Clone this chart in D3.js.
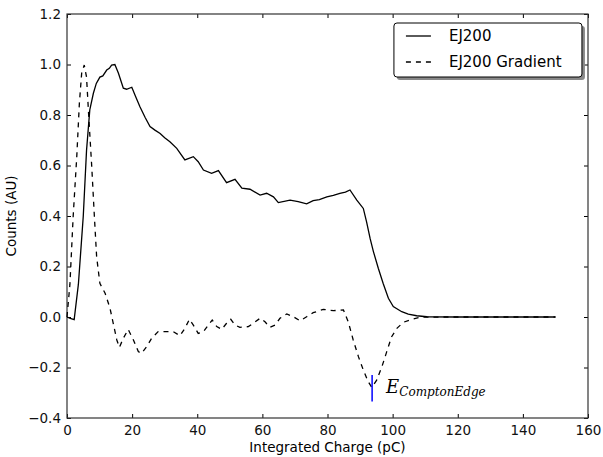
<!DOCTYPE html>
<html>
<head>
<meta charset="utf-8">
<script src="https://cdn.jsdelivr.net/npm/d3@7"></script>
<style>
  body { margin: 0; background: #fff; }
  text { font-family: "DejaVu Sans", sans-serif; }
</style>
</head>
<body>
<div id="chart"></div>
<script>
// EJ200 integrated charge spectrum
var chargeSolid = [0, 1, 2.2, 3.5, 5, 6, 7, 8.1, 9, 10.1, 11, 12.2, 13, 13.7, 14.7, 15.8, 17.3, 18.3, 19.9, 21, 22.4, 24, 25.5, 27, 28.6, 30, 31.6, 33.7, 36.2, 38.8, 40.3, 41.9, 44.4, 46.5, 49.0, 51.6, 53.7, 56.2, 59.3, 61.3, 63.4, 64.9, 68.5, 71.0, 73.6, 75.6, 77.5, 79.8, 81.8, 83.8, 85.5, 86.9, 89, 91, 92, 93.1, 94.1, 95.6, 97.1, 98.7, 100.2, 102.8, 104.8, 107.4, 110.5, 120, 130, 140, 150];
var countsSolid = [0, -0.005, -0.01, 0.13, 0.40, 0.66, 0.82, 0.886, 0.925, 0.95, 0.955, 0.978, 0.985, 0.998, 1.0, 0.965, 0.906, 0.902, 0.91, 0.875, 0.833, 0.79, 0.754, 0.74, 0.727, 0.71, 0.694, 0.668, 0.622, 0.635, 0.615, 0.582, 0.569, 0.58, 0.532, 0.545, 0.51, 0.506, 0.483, 0.49, 0.476, 0.453, 0.463, 0.457, 0.448, 0.461, 0.465, 0.476, 0.482, 0.49, 0.495, 0.503, 0.463, 0.43, 0.377, 0.31, 0.259, 0.193, 0.133, 0.074, 0.041, 0.021, 0.011, 0.005, 0.001, 0, 0, 0, 0];

var chargeGrad = [0, 0.9, 1.9, 3, 3.8, 4.5, 5.3, 6.0, 6.8, 7.6, 8.4, 9.1, 10.1, 11.7, 13.2, 14.2, 15.3, 16.1, 17.3, 18.8, 20.4, 21.9, 22.9, 24.5, 26, 28, 30.1, 32.6, 34.7, 36.2, 37.6, 38.8, 40.3, 41.9, 43.4, 44.6, 46, 47.5, 49, 50.3, 51.6, 53.1, 55.7, 57.2, 59.3, 60.8, 62.3, 63.9, 65.4, 67.5, 69.5, 71.6, 73.6, 75.6, 78.7, 81.8, 84.9, 86.4, 87.9, 89.5, 91, 92.5, 93.6, 95.1, 96.7, 98.2, 99.7, 101.3, 103.3, 105.9, 108.4, 115, 130, 150];
var countsGrad = [0, 0.13, 0.40, 0.635, 0.846, 0.965, 0.998, 0.95, 0.767, 0.595, 0.40, 0.239, 0.133, 0.094, 0.035, -0.025, -0.091, -0.12, -0.084, -0.049, -0.091, -0.137, -0.144, -0.117, -0.084, -0.058, -0.058, -0.058, -0.074, -0.045, -0.009, -0.032, -0.065, -0.058, -0.032, -0.012, -0.038, -0.049, -0.025, -0.009, -0.032, -0.041, -0.038, -0.025, -0.005, -0.019, -0.041, -0.032, -0.005, 0.012, 0.001, -0.015, 0.001, 0.017, 0.03, 0.025, 0.028, -0.02, -0.091, -0.157, -0.21, -0.256, -0.279, -0.25, -0.197, -0.137, -0.078, -0.045, -0.021, -0.009, -0.001, 0, 0, 0];

var xTicks = [0, 20, 40, 60, 80, 100, 120, 140, 160];
var yTicks = [-0.4, -0.2, 0.0, 0.2, 0.4, 0.6, 0.8, 1.0, 1.2];
var seriesNames = ["EJ200", "EJ200 Gradient"];
var comptonEdge = 93.7;
var comptonSpan = [-0.23, -0.335];

var svgWidth = 603;
var svgHeight = 457;
var margin = { top: 14, right: 15, bottom: 39, left: 67 };
var chartWidth = svgWidth - margin.left - margin.right;
var chartHeight = svgHeight - margin.top - margin.bottom;

var svg = d3.select("#chart").append("svg")
  .attr("width", svgWidth)
  .attr("height", svgHeight);

var chartGroup = svg.append("g")
  .attr("transform", `translate(${margin.left}, ${margin.top})`);

var xScale = d3.scaleLinear().domain([0, 160]).range([0, chartWidth]);
var yScale = d3.scaleLinear().domain([-0.4, 1.2]).range([chartHeight, 0]);

var fmtY = function(d) { return d3.format(".1f")(d).replace("-", "\u2212"); };

// axes, ticks pointing inward like matplotlib classic
function styleAxis(g) {
  g.select(".domain").remove();
  g.selectAll(".tick line").attr("stroke", "#000");
  g.selectAll(".tick text").attr("font-size", 13.5).attr("fill", "#111");
}

chartGroup.append("g")
  .attr("transform", `translate(0, ${chartHeight})`)
  .call(d3.axisBottom(xScale).tickValues(xTicks).tickSizeInner(-4).tickSizeOuter(0).tickPadding(7))
  .call(styleAxis);

chartGroup.append("g")
  .call(d3.axisTop(xScale).tickValues(xTicks).tickSizeInner(-4).tickSizeOuter(0).tickFormat(""))
  .call(styleAxis);

chartGroup.append("g")
  .call(d3.axisLeft(yScale).tickValues(yTicks).tickSizeInner(-4).tickSizeOuter(0).tickPadding(6).tickFormat(fmtY))
  .call(styleAxis);

chartGroup.append("g")
  .attr("transform", `translate(${chartWidth}, 0)`)
  .call(d3.axisRight(yScale).tickValues(yTicks).tickSizeInner(-4).tickSizeOuter(0).tickFormat(""))
  .call(styleAxis);

chartGroup.append("rect")
  .attr("width", chartWidth)
  .attr("height", chartHeight)
  .attr("fill", "none")
  .attr("stroke", "#333")
  .attr("stroke-width", 1.2);

var line = d3.line()
  .x(d => xScale(d[0]))
  .y(d => yScale(d[1]));

var solidData = d3.zip(chargeSolid, countsSolid);
var gradData = d3.zip(chargeGrad, countsGrad);

chartGroup.append("path")
  .datum(solidData)
  .attr("d", line)
  .attr("fill", "none")
  .attr("stroke", "#000")
  .attr("stroke-width", 1.3);

chartGroup.append("path")
  .datum(gradData)
  .attr("d", line)
  .attr("fill", "none")
  .attr("stroke", "#000")
  .attr("stroke-width", 1.3)
  .attr("stroke-dasharray", "5,5");

// compton edge marker
chartGroup.append("line")
  .attr("x1", xScale(comptonEdge))
  .attr("x2", xScale(comptonEdge))
  .attr("y1", yScale(comptonSpan[0]))
  .attr("y2", yScale(comptonSpan[1]))
  .attr("stroke", "#0000ff")
  .attr("stroke-width", 1.5);

var label = chartGroup.append("text")
  .attr("x", xScale(comptonEdge) + 14)
  .attr("y", yScale(-0.30))
  .style("font-family", "'DejaVu Serif', 'Liberation Serif', serif")
  .style("font-style", "italic");
label.append("tspan").attr("font-size", 18).text("E");
label.append("tspan").attr("font-size", 12).attr("dy", 3).text("ComptonEdge");

// axis labels
chartGroup.append("text")
  .attr("transform", "rotate(-90)")
  .attr("x", -chartHeight / 2)
  .attr("y", -51)
  .attr("text-anchor", "middle")
  .attr("font-size", 13.5)
  .text("Counts (AU)");

chartGroup.append("text")
  .attr("x", chartWidth / 2)
  .attr("y", chartHeight + 34)
  .attr("text-anchor", "middle")
  .attr("font-size", 13.5)
  .text("Integrated Charge (pC)");

// legend
var legend = chartGroup.append("g")
  .attr("transform", `translate(${xScale(100.4)}, 9)`);
var legW = 188, legH = 54;
legend.append("rect")
  .attr("x", 3).attr("y", 3)
  .attr("width", legW).attr("height", legH)
  .attr("rx", 3)
  .attr("fill", "#888");
legend.append("rect")
  .attr("width", legW).attr("height", legH)
  .attr("rx", 3)
  .attr("fill", "#fff")
  .attr("stroke", "#000")
  .attr("stroke-width", 1);

seriesNames.forEach(function(name, i) {
  var yy = 13 + i * 26;
  legend.append("line")
    .attr("x1", 12).attr("x2", 37)
    .attr("y1", yy).attr("y2", yy)
    .attr("stroke", "#000")
    .attr("stroke-width", 1.3)
    .attr("stroke-dasharray", i === 1 ? "5,5" : null);
  legend.append("text")
    .attr("x", 55)
    .attr("y", yy + 5)
    .attr("font-size", 15)
    .text(name);
});
</script>
</body>
</html>
